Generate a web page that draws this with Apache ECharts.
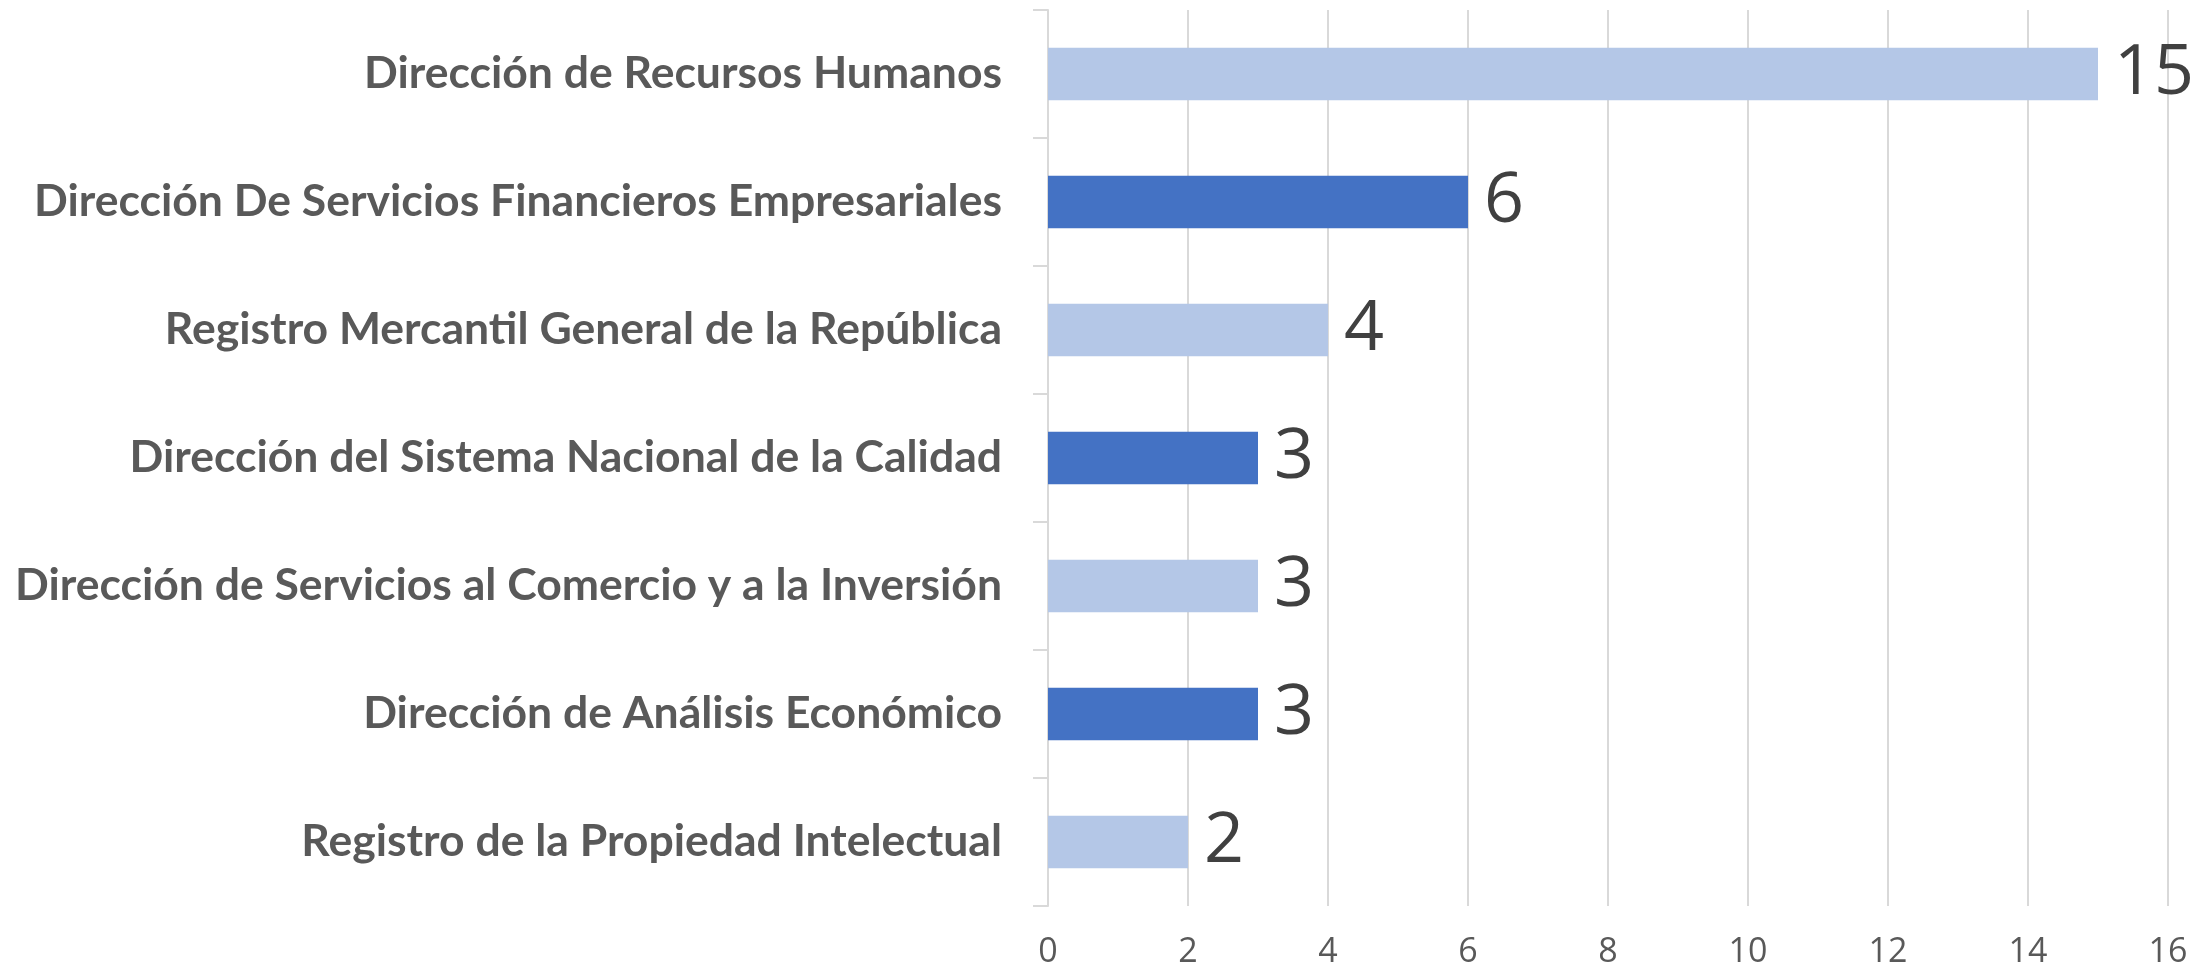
<!DOCTYPE html>
<html>
<head>
<meta charset="utf-8">
<script src="https://cdn.jsdelivr.net/npm/echarts@6/dist/echarts.min.js"></script>
<style>
html,body{margin:0;padding:0;background:#fff;}
#chart{width:2207px;height:970px;}
</style>
</head>
<body>
<div id="chart"></div>
<script>
const categories = [
  "Dirección de Recursos Humanos",
  "Dirección De Servicios Financieros Empresariales",
  "Registro Mercantil General de la República",
  "Dirección del Sistema Nacional de la Calidad",
  "Dirección de Servicios al Comercio y a la Inversión",
  "Dirección de Análisis Económico",
  "Registro de la Propiedad Intelectual"
];
const values = [15, 6, 4, 3, 3, 3, 2];
const xTicks = [0, 2, 4, 6, 8, 10, 12, 14, 16];

const LIGHT = '#b4c7e7', DARK = '#4472c4';
const chart = echarts.init(document.getElementById('chart'));
chart.setOption({
  animation: false,
  backgroundColor: '#ffffff',
  grid: { left: 1048, right: 39, top: 10, bottom: 64, containLabel: false },
  xAxis: {
    type: 'value',
    min: xTicks[0], max: xTicks[xTicks.length - 1], interval: 2,
    axisLine: { show: false },
    axisTick: { show: false },
    splitLine: { show: true, lineStyle: { color: '#d9d9d9', width: 2 } },
    axisLabel: { color: '#595959', fontSize: 34, fontFamily: 'Open Sans', margin: 29 }
  },
  yAxis: {
    type: 'category',
    data: categories,
    inverse: true,
    axisLine: { show: true, lineStyle: { color: '#d9d9d9', width: 2 } },
    axisTick: { show: true, length: 15, lineStyle: { color: '#d9d9d9', width: 2 } },
    axisLabel: { color: '#595959', fontSize: 44.5, fontWeight: 'bold', fontFamily: 'Lato', margin: 46 }
  },
  series: [{
    type: 'bar',
    data: values,
    barCategoryGap: '59%',
    itemStyle: { color: p => (p.dataIndex % 2 === 0 ? LIGHT : DARK) },
    label: {
      show: true, position: 'right', distance: 16,
      color: '#404040', fontSize: 70, fontFamily: 'Open Sans'
    }
  }]
});
</script>
</body>
</html>
